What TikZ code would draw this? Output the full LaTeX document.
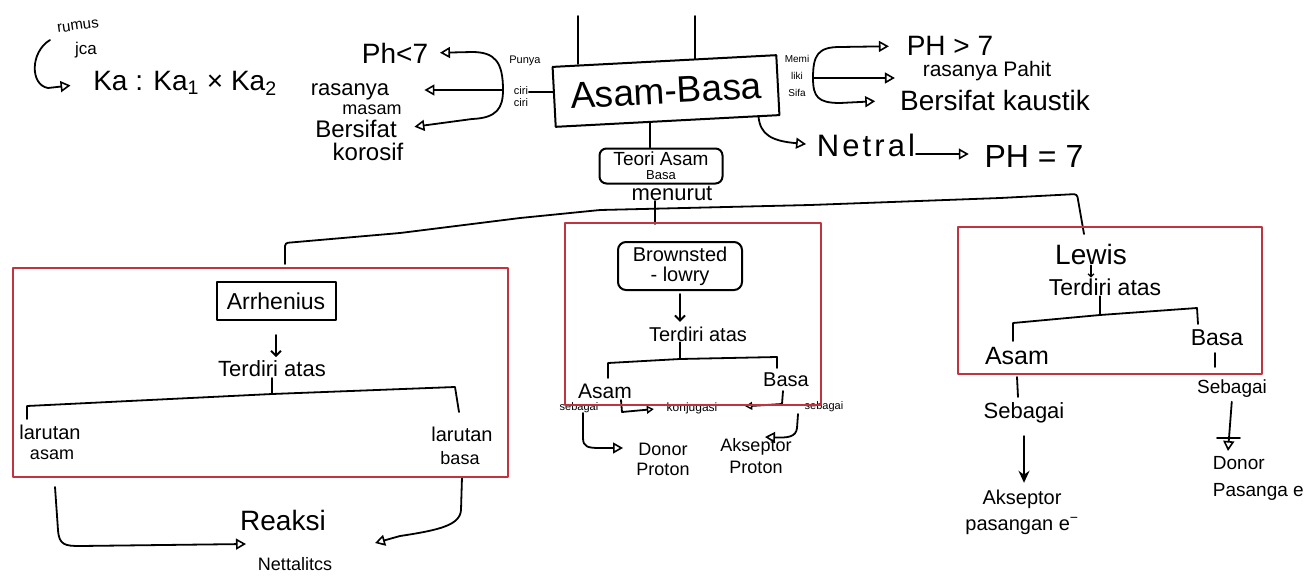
\documentclass[tikz,border=0pt]{standalone}
\usepackage{fontspec}
\setmainfont{Liberation Sans}
\usetikzlibrary{arrows.meta}
\newcommand\fsz[1]{\fontsize{#1}{#1}\selectfont}
\definecolor{redbox}{RGB}{192,52,64}
\begin{document}
\begin{tikzpicture}[x=1pt,y=-1pt,line width=1.8pt,line cap=round,line join=round,
  txt/.style={inner sep=0pt,align=center},
  tri/.style={-{Triangle[open,length=10pt,width=11pt,line width=1.6pt]}},
  trism/.style={-{Triangle[open,length=7pt,width=8pt,line width=1.4pt]}},
  vee/.style={-{Straight Barb[length=5pt,width=10pt]}},
  solidtip/.style={-{Stealth[length=12pt,width=11pt]}},
  frame/.style={draw=redbox,line width=2.6pt,inner sep=0pt},
  hbox/.style={draw,line width=2pt,inner sep=2pt,align=center}]
\useasboundingbox (0,0) rectangle (1312,584);

% ---------- top left formula ----------
\node[txt,font=\fsz{15},rotate=8] (rumus) at (78,26) {rumus};
\node[txt,font=\fsz{17}] (jca) at (86,50) {jca};
\node[txt,font=\fsz{28}] (ka) at (185,83) {Ka : Ka\textsubscript{1} × Ka\textsubscript{2}};
\coordinate (cs) at (50,40);
\draw[tri,shorten >=22pt] (cs) .. controls (30,52) and (30,85) .. (48,88) -- (ka.west);

% ---------- main box ----------
\node[hbox,font=\fsz{37},minimum width=224,minimum height=60,rotate=3,inner sep=0pt] (main) at (666,91) {Asam-Basa};
\coordinate (u1) at (578,16);
\coordinate (u2) at (695,16);
\draw (u1) -- ++(0,48);
\draw (u2) -- ++(0,43);

% ---------- left: ciri-ciri ----------
\node[txt,font=\fsz{11}] (punya) at (525,61) {Punya};
\node[txt,font=\fontsize{11}{12}\selectfont] (ciri) at (521,97) {ciri\\ciri};
\coordinate (lj) at (503,90);
\node[txt,font=\fsz{28}] (ph7) at (395,53) {Ph<7};
\node[txt,font=\fsz{22}] (ras1) at (350,92) {rasanya};
\node[txt,font=\fsz{18}] (ras2) at (372,110) {masam};
\node[txt,font=\fsz{24}] (kor1) at (356,129) {Bersifat};
\node[txt,font=\fsz{24}] (kor2) at (368,152) {korosif};
\draw ([yshift=5pt]main.west) -- ([yshift=5pt]main.west -| ciri.east);
\draw[tri,shorten >=11pt] (lj) .. controls (503,62) and (495,52) .. (472,52) -- (ph7.east);
\draw[tri,shorten >=22pt] (lj) -- (lj -| ras2.east);
\draw[tri,shorten >=17pt] (lj) .. controls (503,108) and (497,118) .. (472,119) -- (kor1.east);

% ---------- right: memiliki sifat ----------
\node[txt,font=\fontsize{10}{17}\selectfont] (memi) at (797,76) {Memi\\liki\\Sifa};
\coordinate (rj) at (813,78);
\node[txt,font=\fsz{28}] (ph7r) at (950,46) {PH > 7};
\node[txt,font=\fsz{21}] (pahit) at (987,71) {rasanya Pahit};
\node[txt,font=\fsz{28}] (kaus) at (995,100) {Bersifat kaustik};
\draw[tri,shorten >=17pt] (rj) .. controls (813,55) and (818,47) .. (840,47) -- (ph7r.west);
\draw[tri,shorten >=27pt] (rj) -- (rj -| pahit.west);
\draw[tri,shorten >=24pt] (rj) .. controls (813,97) and (818,103) .. (840,103) -- (kaus.west);

% ---------- netral ----------
\node[txt,font=\fsz{31}\addfontfeature{LetterSpace=10}] (netral) at (866,145) {Netral};
\node[txt,font=\fsz{32}] (ph7e) at (1034,156) {PH = 7};
\draw[tri,shorten >=10pt] ([xshift=-22pt]main.south east) .. controls (760,135) and (772,141) .. (netral.west);
\draw[tri,shorten >=15pt] ([yshift=-9pt]netral.east) -- ([yshift=-9pt]netral.east -| ph7e.west);

% ---------- teori asam basa ----------
\node[hbox,rounded corners=7pt,minimum width=123,minimum height=35,inner sep=1pt,font=\fontsize{19}{14}\selectfont] (teori) at (661,166) {Teori Asam\\{\fsz{13}Basa}};
\draw ([xshift=-11pt]teori.north) -- ([xshift=-11pt]teori.north |- main.south);
\node[txt,font=\fsz{22}] (menurut) at (672,193) {menurut};

% ---------- distribution line ----------
\coordinate (hl) at (285,264);
\coordinate (hr) at (1084,234);
\draw[rounded corners=3pt] (hl) -- (285,243) -- (400,233) -- (520,218) -- (600,210) -- (810,205) -- (1000,198) -- (1077,194) -- (hr);
\coordinate (mx) at (655,0);
\coordinate (mb) at (655,224);
\draw (mx |- menurut.south) -- (mb);

% ---------- Arrhenius ----------
\node[hbox,font=\fsz{23},minimum width=119,minimum height=38] (arr) at (276,301) {Arrhenius};
\node[txt,font=\fsz{22}] (td1) at (272,369) {Terdiri atas};
\draw[vee,shorten <=14pt,shorten >=3pt] (arr.south) -- (arr.south |- td1.north);
\coordinate (j1) at (272,394);
\draw (j1 |- td1.south) -- (j1);
\node[txt,font=\fsz{20}] (la1) at (50,432) {larutan};
\node[txt,font=\fsz{18}] (la2) at (52,455) {asam};
\node[txt,font=\fsz{20}] (lb1) at (462,434) {larutan};
\node[txt,font=\fsz{18}] (lb2) at (460,458) {basa};
\draw (27,419) -- (27,406) -- (j1) -- (455,387) -- (459,412);
\node[txt,font=\fsz{28}] (reaksi) at (283,520) {Reaksi};
\node[txt,font=\fsz{18}] (nett) at (295,564) {Nettalitcs};
\coordinate (ra) at (55,487);
\coordinate (rb) at (462,477);
\coordinate (rt1) at (246,544);
\coordinate (rt2) at (375,543);
\draw[tri] (ra) -- (58,530) .. controls (59,545) and (65,546) .. (80,546) -- (rt1);
\draw[tri] (rb) -- (461,510) .. controls (460,525) and (440,530) .. (400,536) -- (rt2);

% ---------- Brownsted-Lowry ----------
\node[hbox,rounded corners=8pt,font=\fontsize{20}{20}\selectfont,minimum width=124,minimum height=48] (brown) at (680,266) {Brownsted\\- lowry};
\node[txt,font=\fsz{20}] (td2) at (698,334) {Terdiri atas};
\draw[vee,shorten <=3pt,shorten >=4pt] (brown.south) -- (brown.south |- td2.north);
\coordinate (j2) at (680,359);
\draw (j2 |- td2.south) -- (j2);
\node[txt,font=\fsz{21}] (asamB) at (605,391) {Asam};
\node[txt,font=\fsz{20}] (basaB) at (786,380) {Basa};
\draw (608,378) -- (608,363) -- (j2) -- (777,357) -- (777,368);
\node[txt,font=\fsz{11}] (seb1) at (579,408) {sebagai};
\node[txt,font=\fsz{12}] (konj) at (692,408) {konjugasi};
\node[txt,font=\fsz{11}] (seb2) at (824,407) {sebagai};
\draw[trism,shorten >=12pt] (621,400) -- (622,412) -- (konj.west);
\draw[trism,shorten >=27pt] (783,391) -- (782,404) -- (konj.east);
\node[txt,font=\fontsize{18}{20}\selectfont] (donorP) at (663,459) {Donor\\Proton};
\node[txt,font=\fontsize{18}{22}\selectfont] (aksP) at (756,456) {Akseptor\\Proton};
\coordinate (dt) at (623,448);
\coordinate (at) at (765,437);
\draw[tri] (583,413) -- (583,438) .. controls (583,447) and (588,448) .. (600,448) -- (dt);
\draw[tri] (798,414) -- (797,428) .. controls (796,437) and (788,438) .. (at);

% ---------- Lewis ----------
\node[txt,font=\fsz{28}] (lewis) at (1091,254) {Lewis};
\node[txt,font=\fsz{23}] (td3) at (1105,287) {Terdiri atas};
\draw[-{Straight Barb[length=3pt,width=6pt]},line width=1.2pt] (lewis.south) -- (lewis.south |- td3.north);
\coordinate (j3) at (1100,315);
\draw (j3 |- td3.south) -- (j3);
\node[txt,font=\fsz{25}] (asamL) at (1017,356) {Asam};
\node[txt,font=\fsz{23}] (basaL) at (1217,338) {Basa};
\draw (1013,341) -- (1013,323) -- (j3) -- (1197,308) -- (1198,324);
\draw (1215,353) -- (1215,367);
\node[txt,font=\fsz{19}] (sebL2) at (1232,389) {Sebagai};
\node[txt,font=\fsz{22}] (sebL1) at (1024,413) {Sebagai};
\draw (1017,377) -- (1018,397);
\node[txt,font=\fontsize{20}{26}\selectfont] (aksL) at (1022,512) {Akseptor\\pasangan e\textsuperscript{−}};
\draw[solidtip,shorten <=12pt,shorten >=6pt] (sebL1.south) -- (sebL1.south |- aksL.north);
\node[txt,font=\fontsize{19}{27}\selectfont,align=left,anchor=north west] (donorL) at (1212,456) {Donor\\Pasanga e};
\coordinate (dl) at (1228,451);
\draw[tri,shorten <=3pt] (sebL2.south) -- (dl);
\draw (1217,438) -- (1240,438);

% ---------- red frames ----------
\node[frame,minimum width=495,minimum height=209] (f1) at (260.5,372.5) {};
\node[frame,minimum width=256,minimum height=182] (f2) at (693,314) {};
\node[frame,minimum width=304,minimum height=147] (f3) at (1110,300.5) {};
\end{tikzpicture}
\end{document}
